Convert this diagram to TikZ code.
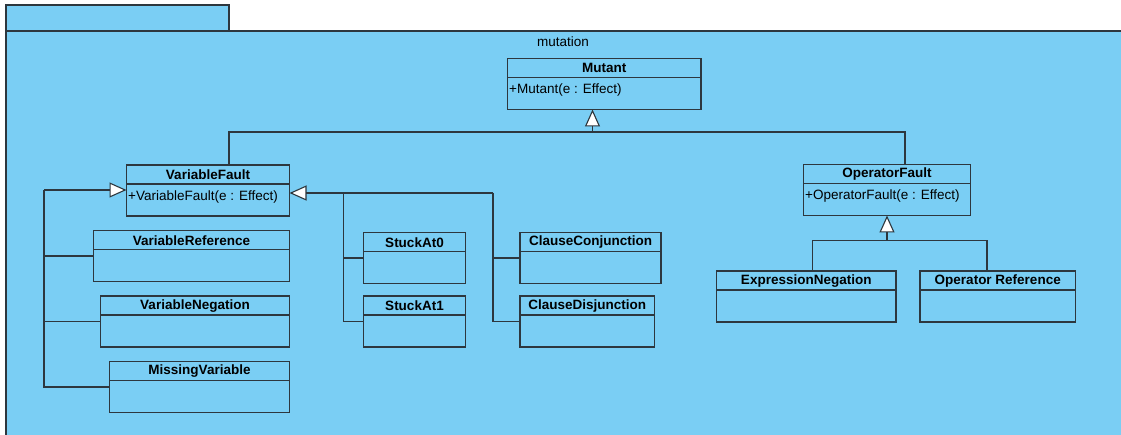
\documentclass[tikz,border=0pt]{standalone}
\usepackage{fontspec}
\setmainfont{Liberation Sans}
\usepackage{tikz}
\usetikzlibrary{arrows.meta}
\definecolor{pkgblue}{RGB}{122,206,244}
\definecolor{umlline}{RGB}{45,55,62}
\tikzset{umlbox/.style={draw=umlline, fill=pkgblue, line width=1.1pt, anchor=north west, minimum height=51pt, inner sep=0pt, outer sep=0pt},
umltitle/.style={anchor=north, minimum height=19pt, inner sep=0pt, font=\fontsize{13.5}{16}\selectfont\bfseries},
umlop/.style={anchor=west, inner xsep=1.5pt, inner ysep=0pt, font=\fontsize{13.5}{16}\selectfont},
%generalization: hollow triangle at the parent
gen/.style={-{Triangle[length=17pt, width=15pt, fill=white]}},
conn/.style={draw=umlline, line width=1.1pt}}
% one class: name, x, y, width, title, operation
\newcommand{\umlclass}[6]{%
  \node[umlbox, minimum width=#4] (#1) at (#2,#3) {};
  \node[umltitle] (#1-title) at (#1.north) {#5};
  \draw[conn] ([yshift=-19pt]#1.north west) -- ([yshift=-19pt]#1.north east);
  \node[umlop] (#1-op) at ([yshift=-32pt]#1.north west) {#6};
}

\begin{document}
\begin{tikzpicture}[x=1pt, y=-1pt]
\useasboundingbox (0,0) rectangle (1121,435);
% package
\draw[conn, fill=pkgblue] (6,5) rectangle (229,31);
\draw[conn, fill=pkgblue] (6,31) rectangle (1130,445);
\node[font=\fontsize{13.5}{16}\selectfont] (pkgname) at (563,42) {mutation};

% classes
\umlclass{mutant}{507.5}{58.5}{193.5pt}{Mutant}{+Mutant(e : Effect)}
\umlclass{varfault}{126.5}{165}{163pt}{VariableFault}{+VariableFault(e : Effect)}
\umlclass{opfault}{803.5}{164.5}{167pt}{OperatorFault}{+OperatorFault(e : Effect)}

\umlclass{varref}{93.5}{230.5}{196pt}{VariableReference}{}
\umlclass{varneg}{100.5}{296}{189pt}{VariableNegation}{}
\umlclass{missvar}{109.5}{361.5}{180pt}{MissingVariable}{}
\umlclass{stuck0}{363.5}{232.5}{102pt}{StuckAt0}{}
\umlclass{stuck1}{363.5}{296}{102pt}{StuckAt1}{}
\umlclass{clconj}{520}{232.5}{141pt}{ClauseConjunction}{}
\umlclass{cldisj}{520}{296}{134.5pt}{ClauseDisjunction}{}
\umlclass{exprneg}{716.5}{271}{179.5pt}{ExpressionNegation}{}
\umlclass{opref}{920}{271}{155.5pt}{Operator Reference}{}

% generalizations
\coordinate (mbus) at ([xshift=85pt, yshift=-22.5pt]mutant.south west);
\draw[conn, gen] (mbus) -- (mbus |- mutant.south);
\draw[conn] ([xshift=102.5pt]varfault.north west) |- (mbus) -| ([xshift=101.5pt]opfault.north west);

\coordinate (obus) at ([yshift=-25pt]opfault.south);
\draw[conn, gen] (obus) -- (opfault.south);
\draw[conn] ([xshift=96pt]exprneg.north west) |- (obus) -| ([xshift=67pt]opref.north west);

\coordinate (lspine) at (44,190);
\draw[conn, gen] (lspine) -- (varfault.west |- lspine);
\draw[conn] (lspine) |- (varref.west);
\draw[conn] (lspine) |- (varneg.west);
\draw[conn] (lspine) |- (missvar.west);

\coordinate (sspine) at (343.5,193);
\coordinate (cspine) at (493,193);
\draw[conn, gen] (cspine) -- (varfault.east |- cspine);
\draw[conn] (sspine) |- (stuck0.west);
\draw[conn] (sspine) |- (stuck1.west);
\draw[conn] (cspine) |- (clconj.west);
\draw[conn] (cspine) |- (cldisj.west);

\end{tikzpicture}
\end{document}
